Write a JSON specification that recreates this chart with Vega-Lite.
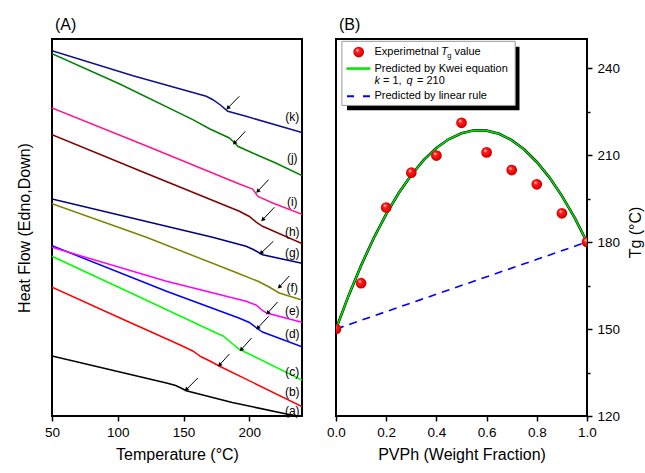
{
  "$schema": "https://vega.github.io/schema/vega-lite/v6.json",
  "padding": {"left": 15, "top": 16, "right": 0, "bottom": 0},
  "spacing": 22,
  "config": {
    "view": {"stroke": "black", "strokeWidth": 2},
    "font": "Liberation Sans",
    "axis": {"labelFont": "Liberation Sans", "titleFont": "Liberation Sans", "labelFontSize": 13.5, "titleFontSize": 16, "titleFontWeight": "normal", "labelColor": "black", "titleColor": "black", "tickColor": "black", "domain": false, "grid": false, "tickWidth": 1.5, "labelFlush": false, "labelOverlap": false},
    "title": {"fontSize": 16, "fontWeight": "normal", "anchor": "start", "frame": "group", "font": "Liberation Sans", "color": "black", "offset": 6, "dx": 3},
    "text": {"font": "Liberation Sans"}
  },
  "datasets": {
    "curves": [
      {"s":"a","T":50,"hf":60},{"s":"a","T":100,"hf":44.5},{"s":"a","T":137,"hf":33},{"s":"a","T":144,"hf":30.5},{"s":"a","T":148,"hf":28},{"s":"a","T":152,"hf":25.3},{"s":"a","T":187,"hf":13.5},{"s":"a","T":230,"hf":1.5},{"s":"a","T":240,"hf":-1.5},
      {"s":"b","T":50,"hf":128.7},{"s":"b","T":100,"hf":99},{"s":"b","T":147,"hf":71.3},{"s":"b","T":157,"hf":65},{"s":"b","T":163,"hf":59.5},{"s":"b","T":170,"hf":55},{"s":"b","T":177,"hf":50},{"s":"b","T":240,"hf":9.5},
      {"s":"c","T":50,"hf":159.7},{"s":"c","T":110,"hf":123},{"s":"c","T":172,"hf":84.7},{"s":"c","T":180,"hf":80},{"s":"c","T":186,"hf":73.5},{"s":"c","T":192,"hf":67},{"s":"c","T":240,"hf":36},
      {"s":"d","T":50,"hf":170.3},{"s":"d","T":137,"hf":124.7},{"s":"d","T":192,"hf":98},{"s":"d","T":200,"hf":93.5},{"s":"d","T":205,"hf":88.5},{"s":"d","T":210,"hf":84},{"s":"d","T":240,"hf":69.3},
      {"s":"e","T":50,"hf":168.7},{"s":"e","T":137,"hf":134.7},{"s":"e","T":197.5,"hf":114.7},{"s":"e","T":205,"hf":111},{"s":"e","T":210,"hf":105.5},{"s":"e","T":213,"hf":103},{"s":"e","T":240,"hf":93.8},
      {"s":"f","T":50,"hf":212.3},{"s":"f","T":121.7,"hf":178.7},{"s":"f","T":187,"hf":145},{"s":"f","T":207,"hf":134.5},{"s":"f","T":215,"hf":129},{"s":"f","T":222.7,"hf":123},{"s":"f","T":240,"hf":116},
      {"s":"g","T":50,"hf":217},{"s":"g","T":172,"hf":178.7},{"s":"g","T":197.5,"hf":169.7},{"s":"g","T":203,"hf":166.5},{"s":"g","T":210,"hf":161.3},{"s":"g","T":240,"hf":152.8},
      {"s":"h","T":50,"hf":281.3},{"s":"h","T":120,"hf":243.5},{"s":"h","T":192.4,"hf":204.7},{"s":"h","T":200,"hf":199.5},{"s":"h","T":206,"hf":193},{"s":"h","T":210,"hf":189.7},{"s":"h","T":240,"hf":172.5},
      {"s":"i","T":50,"hf":308},{"s":"i","T":120,"hf":271},{"s":"i","T":192.4,"hf":232},{"s":"i","T":202.5,"hf":227},{"s":"i","T":206.5,"hf":219.5},{"s":"i","T":217.7,"hf":213},{"s":"i","T":240,"hf":201.8},
      {"s":"j","T":50,"hf":362.3},{"s":"j","T":101.5,"hf":332},{"s":"j","T":157,"hf":296.3},{"s":"j","T":170,"hf":287},{"s":"j","T":184.8,"hf":278},{"s":"j","T":188,"hf":274},{"s":"j","T":191.5,"hf":269.5},{"s":"j","T":202.5,"hf":263},{"s":"j","T":220,"hf":253},{"s":"j","T":240,"hf":240.5},
      {"s":"k","T":50,"hf":365.3},{"s":"k","T":111.6,"hf":340.3},{"s":"k","T":167.2,"hf":319.7},{"s":"k","T":172,"hf":316.5},{"s":"k","T":178,"hf":311},{"s":"k","T":183.6,"hf":304.7},{"s":"k","T":197.5,"hf":299.7},{"s":"k","T":240,"hf":283.5}
    ],
    "arrows": [
      {"s":"a","T":152.0,"hf":26.3,"Tt":160.8,"hft":38},
      {"s":"b","T":177.3,"hf":51,"Tt":184.8,"hft":62},
      {"s":"c","T":193.7,"hf":66.3,"Tt":201.7,"hft":78},
      {"s":"d","T":206.3,"hf":88,"Tt":214.6,"hft":99.7},
      {"s":"e","T":213.9,"hf":103,"Tt":221.4,"hft":114},
      {"s":"f","T":222.7,"hf":129,"Tt":230.3,"hft":140},
      {"s":"g","T":208.9,"hf":163,"Tt":218.2,"hft":174.7},
      {"s":"h","T":210.1,"hf":196.3,"Tt":219,"hft":208.7},
      {"s":"i","T":206.3,"hf":224.7,"Tt":214.6,"hft":236.3},
      {"s":"j","T":188.6,"hf":273,"Tt":197,"hft":284.7},
      {"s":"k","T":183.6,"hf":308,"Tt":192.4,"hft":319.7}
    ],
    "labels": [
      {"t":"(a)","T":232.6,"hf":5},{"t":"(b)","T":232.6,"hf":24},{"t":"(c)","T":232.6,"hf":44},{"t":"(d)","T":232.6,"hf":82},{"t":"(e)","T":232.6,"hf":105},{"t":"(f)","T":232.6,"hf":128},{"t":"(g)","T":232.6,"hf":163},{"t":"(h)","T":232.6,"hf":184},{"t":"(i)","T":232.6,"hf":214},{"t":"(j)","T":232.6,"hf":258},{"t":"(k)","T":232.6,"hf":299}
    ],
    "exp": [
      {"w":0.0,"Tg":150},{"w":0.1,"Tg":165.8},{"w":0.2,"Tg":191.9},{"w":0.3,"Tg":203.9},{"w":0.4,"Tg":209.8},{"w":0.5,"Tg":221.1},{"w":0.6,"Tg":210.9},{"w":0.7,"Tg":204.8},{"w":0.8,"Tg":199.9},{"w":0.9,"Tg":189.9},{"w":1.0,"Tg":180}
    ],
    "kwei": [
      {"w":0,"Tg":150},{"w":0.05,"Tg":161.5},{"w":0.1,"Tg":171.9},{"w":0.15,"Tg":181.3},{"w":0.2,"Tg":189.6},{"w":0.25,"Tg":196.9},{"w":0.3,"Tg":203.1},{"w":0.35,"Tg":208.3},{"w":0.4,"Tg":212.4},{"w":0.45,"Tg":215.5},{"w":0.5,"Tg":217.5},{"w":0.55,"Tg":218.5},{"w":0.6,"Tg":218.4},{"w":0.65,"Tg":217.3},{"w":0.7,"Tg":215.1},{"w":0.75,"Tg":211.9},{"w":0.8,"Tg":207.6},{"w":0.85,"Tg":202.3},{"w":0.9,"Tg":195.9},{"w":0.95,"Tg":188.5},{"w":1.0,"Tg":180}
    ],
    "linear": [{"w":0,"Tg":150},{"w":1,"Tg":180}],
    "shadow": [{"w":0.044,"w2":0.731,"Tg":247.3,"Tg2":225.4}],
    "box": [{"w":0.0235,"w2":0.714,"Tg":249.2,"Tg2":227.1}],
    "legpt": [{"w":0.0904,"Tg":245.5}],
    "leggreen": [{"w":0.0414,"w2":0.137,"Tg":239.8}],
    "legblue": [{"w":0.0438,"w2":0.1355,"Tg":230.3}],
    "legtext": [
      {"w":0.1532,"Tg":245.5,"t":"Experimetnal"},{"w":0.4717,"Tg":245.5,"t":"value"},{"w":0.1532,"Tg":239.8,"t":"Predicted by Kwei equation"},{"w":0.1873,"Tg":235.4,"t":"= 1,"},{"w":0.3227,"Tg":235.4,"t":"= 210"},{"w":0.1532,"Tg":230.3,"t":"Predicted by linear rule"}
    ],
    "legital": [{"w":0.4183,"Tg":245.5,"t":"T"},{"w":0.1532,"Tg":235.4,"t":"k"},{"w":0.2805,"Tg":235.4,"t":"q"}],
    "legsub": [{"w":0.443,"Tg":244.3,"t":"g"}]
  },
  "hconcat": [
    {
      "width": 250,
      "height": 377,
      "title": "(A)",
      "layer": [
        {
          "data": {"name": "curves"},
          "mark": {"type": "line", "strokeWidth": 1.5, "clip": true},
          "encoding": {
            "x": {"field": "T", "type": "quantitative", "scale": {"domain": [50, 240], "nice": false, "zero": false},
                  "axis": {"title": "Temperature (°C)", "values": [50, 75, 100, 125, 150, 175, 200, 225], "labelExpr": "datum.value % 50 == 0 ? datum.label : ''", "tickSize": {"condition": {"test": "datum.value % 50 == 0", "value": 5}, "value": 3}, "labelPadding": 4, "titlePadding": 8}},
            "y": {"field": "hf", "type": "quantitative", "scale": {"domain": [0, 377], "nice": false, "zero": false},
                  "axis": {"title": "Heat Flow (Edno,Down)", "labels": false, "ticks": false, "titlePadding": 20}},
            "color": {"field": "s", "type": "nominal", "legend": null,
                      "scale": {"domain": ["a","b","c","d","e","f","g","h","i","j","k"], "range": ["#000000","#FF0000","#00FF00","#0000FF","#FF00FF","#808000","#000080","#800000","#FF1493","#008000","#10108C"]}},
            "detail": {"field": "s"}
          }
        },
        {
          "data": {"name": "arrows"},
          "mark": {"type": "rule", "color": "black", "strokeWidth": 1},
          "encoding": {"x": {"field": "T", "type": "quantitative"}, "y": {"field": "hf", "type": "quantitative"}, "x2": {"field": "Tt"}, "y2": {"field": "hft"}}
        },
        {
          "data": {"name": "arrows"},
          "mark": {"type": "point", "shape": "triangle-up", "angle": 225, "filled": true, "color": "black", "opacity": 1, "size": 22},
          "encoding": {"x": {"field": "T", "type": "quantitative"}, "y": {"field": "hf", "type": "quantitative"}}
        },
        {
          "data": {"name": "labels"},
          "mark": {"type": "text", "fontSize": 12, "color": "black", "align": "center", "baseline": "middle"},
          "encoding": {"x": {"field": "T", "type": "quantitative"}, "y": {"field": "hf", "type": "quantitative"}, "text": {"field": "t"}}
        }
      ]
    },
    {
      "width": 251,
      "height": 377,
      "title": "(B)",
      "layer": [
        {
          "data": {"name": "linear"},
          "mark": {"type": "line", "color": "#0000FF", "strokeWidth": 1.6, "strokeDash": [8, 6]},
          "encoding": {
            "x": {"field": "w", "type": "quantitative", "scale": {"domain": [0, 1], "nice": false},
                  "axis": {"title": "PVPh (Weight Fraction)", "values": [0, 0.1, 0.2, 0.3, 0.4, 0.5, 0.6, 0.7, 0.8, 0.9, 1.0], "format": ".1f", "labelExpr": "round(datum.value * 10) % 2 == 0 ? datum.label : ''", "tickSize": {"condition": {"test": "round(datum.value * 10) % 2 == 0", "value": 5}, "value": 3}, "labelPadding": 4, "titlePadding": 8}},
            "y": {"field": "Tg", "type": "quantitative", "scale": {"domain": [120, 250], "nice": false, "zero": false},
                  "axis": {"orient": "right", "title": "Tg (°C)", "titleAngle": 270, "titleY": 193, "titleAlign": "center", "values": [120, 135, 150, 165, 180, 195, 210, 225, 240], "labelExpr": "datum.value % 30 == 0 ? datum.label : ''", "tickSize": {"condition": {"test": "datum.value % 30 == 0", "value": 5}, "value": 3}, "labelPadding": 5, "titlePadding": 24}}
          }
        },
        {
          "data": {"name": "kwei"},
          "mark": {"type": "line", "color": "#000000", "strokeWidth": 2.6, "clip": true},
          "encoding": {"x": {"field": "w", "type": "quantitative"}, "y": {"field": "Tg", "type": "quantitative"}}
        },
        {
          "data": {"name": "kwei"},
          "mark": {"type": "line", "color": "#00E000", "strokeWidth": 1.6, "clip": true},
          "encoding": {"x": {"field": "w", "type": "quantitative"}, "y": {"field": "Tg", "type": "quantitative"}}
        },
        {
          "data": {"name": "exp"},
          "mark": {"type": "point", "filled": true, "opacity": 1, "size": 115, "clip": true, "strokeWidth": 0,
                   "fill": {"gradient": "radial", "x1": 0.35, "y1": 0.3, "r1": 0, "x2": 0.5, "y2": 0.5, "r2": 0.55, "stops": [{"offset": 0, "color": "#FFFFFF"}, {"offset": 0.3, "color": "#FF2020"}, {"offset": 0.8, "color": "#E00000"}, {"offset": 1, "color": "#A00000"}]}},
          "encoding": {"x": {"field": "w", "type": "quantitative"}, "y": {"field": "Tg", "type": "quantitative"}}
        },
        {
          "data": {"name": "shadow"},
          "mark": {"type": "rect", "color": "black"},
          "encoding": {"x": {"field": "w", "type": "quantitative"}, "x2": {"field": "w2"}, "y": {"field": "Tg", "type": "quantitative"}, "y2": {"field": "Tg2"}}
        },
        {
          "data": {"name": "box"},
          "mark": {"type": "rect", "fill": "white", "stroke": "#999999", "strokeWidth": 1},
          "encoding": {"x": {"field": "w", "type": "quantitative"}, "x2": {"field": "w2"}, "y": {"field": "Tg", "type": "quantitative"}, "y2": {"field": "Tg2"}}
        },
        {
          "data": {"name": "legpt"},
          "mark": {"type": "point", "filled": true, "opacity": 1, "size": 115, "strokeWidth": 0,
                   "fill": {"gradient": "radial", "x1": 0.35, "y1": 0.3, "r1": 0, "x2": 0.5, "y2": 0.5, "r2": 0.55, "stops": [{"offset": 0, "color": "#FFFFFF"}, {"offset": 0.3, "color": "#FF2020"}, {"offset": 0.8, "color": "#E00000"}, {"offset": 1, "color": "#A00000"}]}},
          "encoding": {"x": {"field": "w", "type": "quantitative"}, "y": {"field": "Tg", "type": "quantitative"}}
        },
        {
          "data": {"name": "leggreen"},
          "mark": {"type": "rule", "color": "#00E600", "strokeWidth": 2.5},
          "encoding": {"x": {"field": "w", "type": "quantitative"}, "x2": {"field": "w2"}, "y": {"field": "Tg", "type": "quantitative"}}
        },
        {
          "data": {"name": "legblue"},
          "mark": {"type": "rule", "color": "#0000FF", "strokeWidth": 2, "strokeDash": [7, 9]},
          "encoding": {"x": {"field": "w", "type": "quantitative"}, "x2": {"field": "w2"}, "y": {"field": "Tg", "type": "quantitative"}}
        },
        {
          "data": {"name": "legtext"},
          "mark": {"type": "text", "fontSize": 11, "color": "black", "align": "left", "baseline": "middle"},
          "encoding": {"x": {"field": "w", "type": "quantitative"}, "y": {"field": "Tg", "type": "quantitative"}, "text": {"field": "t"}}
        },
        {
          "data": {"name": "legital"},
          "mark": {"type": "text", "fontSize": 11, "fontStyle": "italic", "color": "black", "align": "left", "baseline": "middle"},
          "encoding": {"x": {"field": "w", "type": "quantitative"}, "y": {"field": "Tg", "type": "quantitative"}, "text": {"field": "t"}}
        },
        {
          "data": {"name": "legsub"},
          "mark": {"type": "text", "fontSize": 7.5, "color": "black", "align": "left", "baseline": "middle"},
          "encoding": {"x": {"field": "w", "type": "quantitative"}, "y": {"field": "Tg", "type": "quantitative"}, "text": {"field": "t"}}
        }
      ]
    }
  ]
}
